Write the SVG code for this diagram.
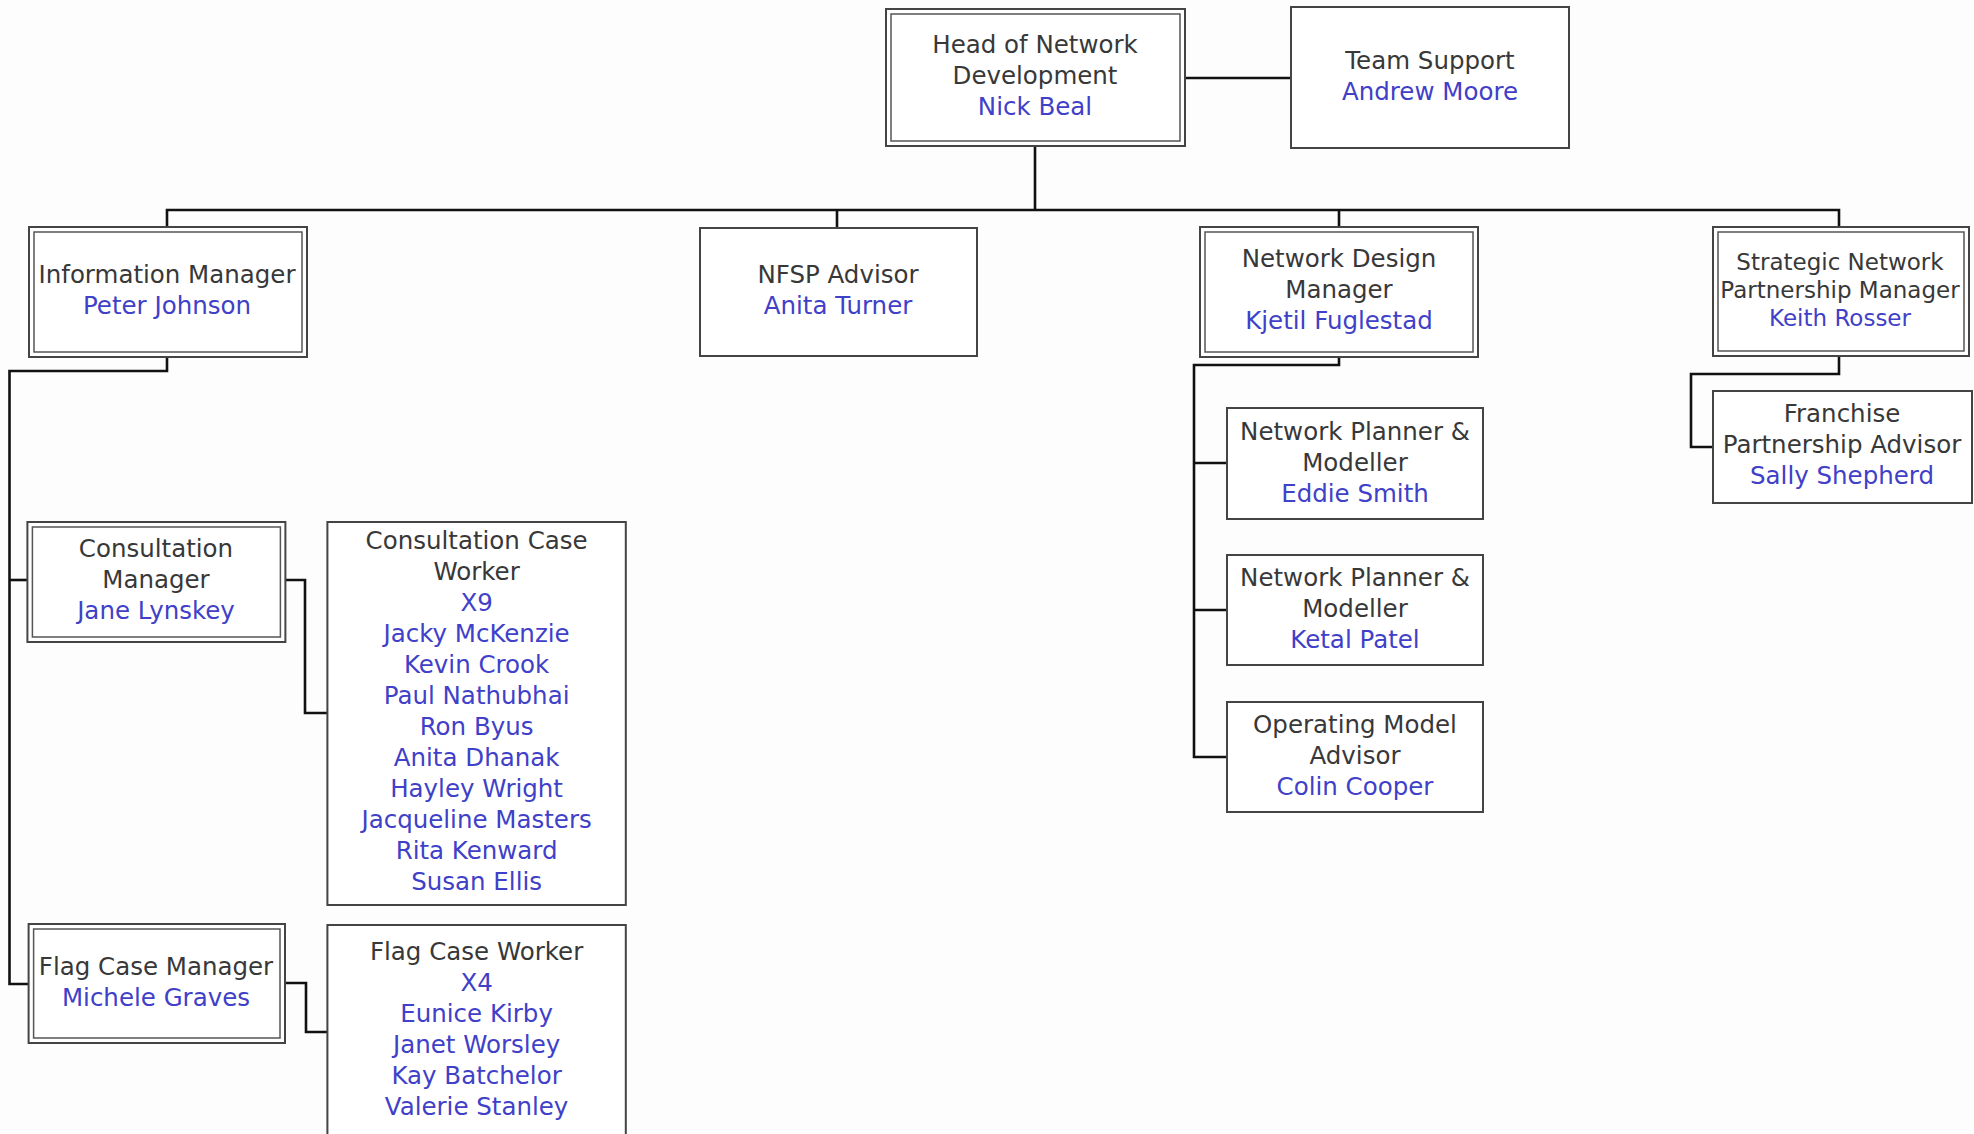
<svg xmlns="http://www.w3.org/2000/svg" width="1974" height="1134" viewBox="0 0 1974 1134">
<style>
.box{fill:#fff;stroke:#444;stroke-width:2}
.inner{fill:none;stroke:#555;stroke-width:1.5}
text{font-family:"DejaVu Sans","Liberation Sans",sans-serif;font-size:24.5px;text-anchor:middle;fill:#383838}
.n{fill:#4040c8}
.sm{font-size:23px}
.c{fill:none;stroke:#111;stroke-width:2.6}
</style>
<rect width="1974" height="1134" fill="#fdfdfd"/>
<g id="connectors">
<path class="c" d="M1185,78H1291"/>
<path class="c" d="M1035,146V210"/>
<path class="c" d="M167,227V210H1839V227"/>
<path class="c" d="M837,210V228"/>
<path class="c" d="M1339,210V227"/>
<path class="c" d="M167,357V371H9.5V984H28.6"/>
<path class="c" d="M9.5,580H27.4"/>
<path class="c" d="M285,580H305V713H327.4"/>
<path class="c" d="M285,983H306V1032H327.4"/>
<path class="c" d="M1339,357V365H1194V757H1227"/>
<path class="c" d="M1194,463H1227"/>
<path class="c" d="M1194,610H1227"/>
<path class="c" d="M1839,356V374H1691V447H1713"/>
</g>
<g id="head">
<rect class="box" x="886" y="9" width="299" height="137"/>
<rect class="inner" x="891" y="14" width="289" height="127"/>
<text x="1035" y="53">Head of Network</text>
<text x="1035" y="84">Development</text>
<text class="n" x="1035" y="115">Nick Beal</text>
</g>
<g id="team-support">
<rect class="box" x="1291" y="7" width="278" height="141"/>
<text x="1430" y="68.5">Team Support</text>
<text class="n" x="1430" y="99.5">Andrew Moore</text>
</g>
<g id="information-manager">
<rect class="box" x="29" y="227" width="278" height="130"/>
<rect class="inner" x="34" y="232" width="268" height="120"/>
<text x="167" y="282.5">Information Manager</text>
<text class="n" x="167" y="313.5">Peter Johnson</text>
</g>
<g id="nfsp-advisor">
<rect class="box" x="700" y="228" width="277" height="128"/>
<text x="838" y="282.5">NFSP Advisor</text>
<text class="n" x="838" y="313.5">Anita Turner</text>
</g>
<g id="network-design-manager">
<rect class="box" x="1200" y="227" width="278" height="130"/>
<rect class="inner" x="1205" y="232" width="268" height="120"/>
<text x="1339" y="267">Network Design</text>
<text x="1339" y="298">Manager</text>
<text class="n" x="1339" y="329">Kjetil Fuglestad</text>
</g>
<g id="strategic-network-partnership-manager">
<rect class="box" x="1713" y="227" width="256" height="129"/>
<rect class="inner" x="1718" y="232" width="246" height="119"/>
<text class="sm" x="1840" y="269.5">Strategic Network</text>
<text class="sm" x="1840" y="297.5">Partnership Manager</text>
<text class="sm n" x="1840" y="325.5">Keith Rosser</text>
</g>
<g id="franchise-partnership-advisor">
<rect class="box" x="1713" y="391" width="259" height="112"/>
<text x="1842" y="422">Franchise</text>
<text x="1842" y="453">Partnership Advisor</text>
<text class="n" x="1842" y="484">Sally Shepherd</text>
</g>
<g id="network-planner-1">
<rect class="box" x="1227" y="408" width="256" height="111"/>
<text x="1355" y="440">Network Planner &amp;</text>
<text x="1355" y="471">Modeller</text>
<text class="n" x="1355" y="502">Eddie Smith</text>
</g>
<g id="network-planner-2">
<rect class="box" x="1227" y="555" width="256" height="110"/>
<text x="1355" y="586">Network Planner &amp;</text>
<text x="1355" y="617">Modeller</text>
<text class="n" x="1355" y="648">Ketal Patel</text>
</g>
<g id="operating-model-advisor">
<rect class="box" x="1227" y="702" width="256" height="110"/>
<text x="1355" y="733">Operating Model</text>
<text x="1355" y="764">Advisor</text>
<text class="n" x="1355" y="795">Colin Cooper</text>
</g>
<g id="consultation-manager">
<rect class="box" x="27.4" y="522" width="258" height="120"/>
<rect class="inner" x="32.4" y="527" width="248" height="110"/>
<text x="156" y="557">Consultation</text>
<text x="156" y="588">Manager</text>
<text class="n" x="156" y="619">Jane Lynskey</text>
</g>
<g id="consultation-case-worker">
<rect class="box" x="327.4" y="522" width="298.4" height="383"/>
<text x="476.6" y="549">Consultation Case</text>
<text x="476.6" y="580">Worker</text>
<text class="n" x="476.6" y="611">X9</text>
<text class="n" x="476.6" y="642">Jacky McKenzie</text>
<text class="n" x="476.6" y="673">Kevin Crook</text>
<text class="n" x="476.6" y="704">Paul Nathubhai</text>
<text class="n" x="476.6" y="735">Ron Byus</text>
<text class="n" x="476.6" y="766">Anita Dhanak</text>
<text class="n" x="476.6" y="797">Hayley Wright</text>
<text class="n" x="476.6" y="828">Jacqueline Masters</text>
<text class="n" x="476.6" y="859">Rita Kenward</text>
<text class="n" x="476.6" y="890">Susan Ellis</text>
</g>
<g id="flag-case-manager">
<rect class="box" x="28.6" y="924" width="256.4" height="119"/>
<rect class="inner" x="33.6" y="929" width="246.4" height="109"/>
<text x="156" y="975">Flag Case Manager</text>
<text class="n" x="156" y="1006">Michele Graves</text>
</g>
<g id="flag-case-worker">
<rect class="box" x="327.4" y="925" width="298.4" height="220"/>
<text x="476.6" y="960">Flag Case Worker</text>
<text class="n" x="476.6" y="991">X4</text>
<text class="n" x="476.6" y="1022">Eunice Kirby</text>
<text class="n" x="476.6" y="1053">Janet Worsley</text>
<text class="n" x="476.6" y="1084">Kay Batchelor</text>
<text class="n" x="476.6" y="1115">Valerie Stanley</text>
</g>
</svg>
